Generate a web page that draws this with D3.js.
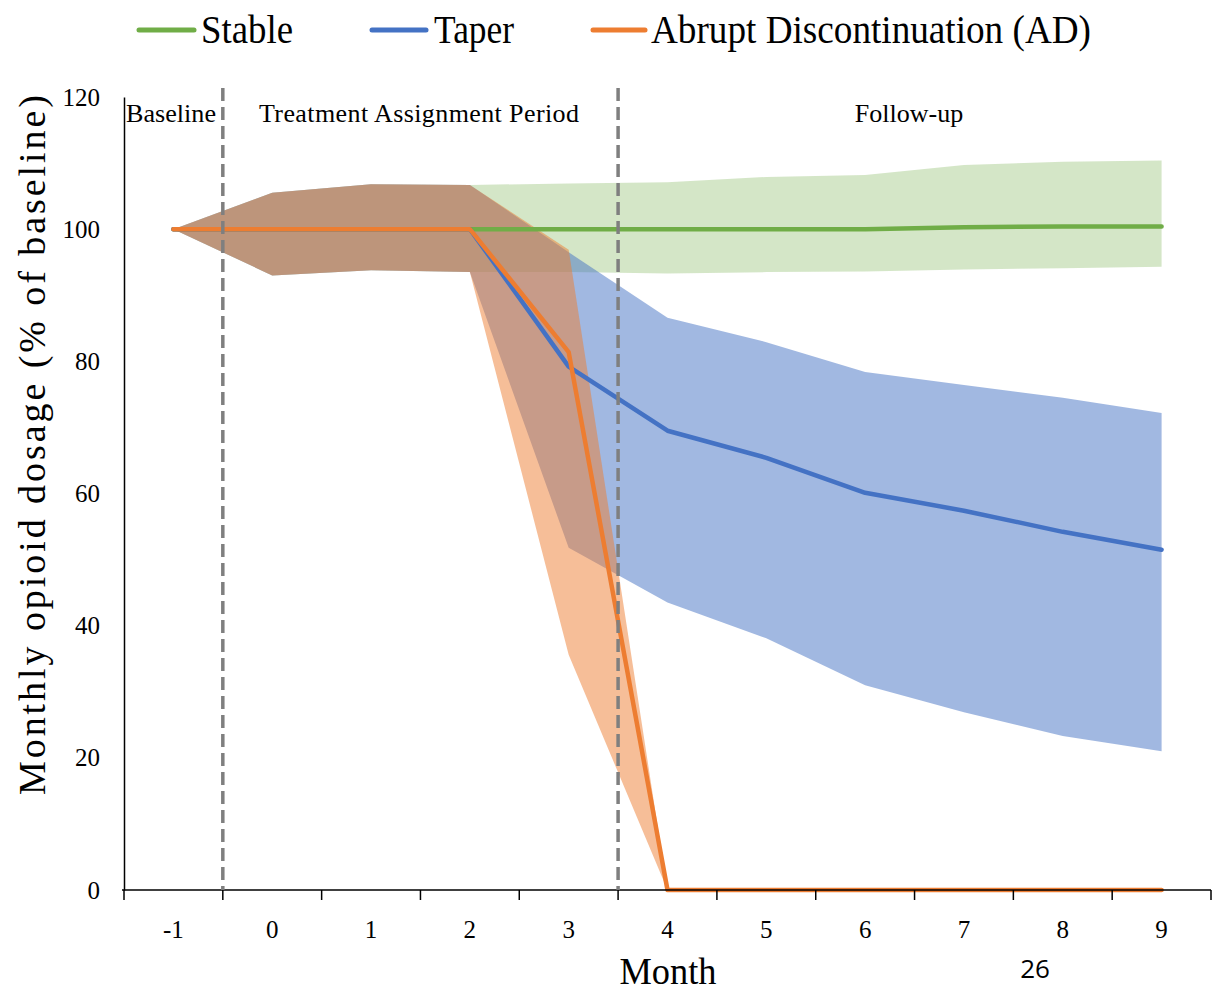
<!DOCTYPE html>
<html>
<head>
<meta charset="utf-8">
<script src="https://cdn.jsdelivr.net/npm/d3@7"></script>
<style>
  body { margin: 0; background: #fff; }
  text { font-family: "Liberation Serif", "Times New Roman", serif; fill: #000; }
</style>
</head>
<body>
<div id="chart"></div>
<script>
// Months on the x axis
const months = [-1, 0, 1, 2, 3, 4, 5, 6, 7, 8, 9];

// Stable group: mean and confidence band (% of baseline)
const stableMean  = [100, 100, 100, 100, 100, 100, 100, 100, 100.3, 100.4, 100.4];
const stableUpper = [100, 105.5, 106.8, 106.7, 106.9, 107.1, 107.9, 108.2, 109.7, 110.2, 110.4];
const stableLower = [100, 93, 93.8, 93.5, 93.5, 93.3, 93.5, 93.6, 93.9, 94.1, 94.3];

// Taper group
const taperMean  = [100, 100, 100, 100, 79.2, 69.5, 65.4, 60.1, 57.4, 54.2, 51.5];
const taperUpper = [100, 105.5, 106.8, 106.7, 96.5, 86.6, 82.9, 78.4, 76.4, 74.5, 72.2];
const taperLower = [100, 93, 93.8, 93.5, 51.8, 43.5, 38.1, 31.0, 26.9, 23.3, 21.0];

// Abrupt discontinuation group
const adMean  = [100, 100, 100, 100, 81.4, 0, 0, 0, 0, 0, 0];
const adUpper = [100, 105.5, 106.8, 106.7, 96.9, 0, 0, 0, 0, 0, 0];
const adLower = [100, 93, 93.8, 93.5, 35.6, 0, 0, 0, 0, 0, 0];

// Y axis ticks and period labels
const yTicks = [0, 20, 40, 60, 80, 100, 120];
const periodNames = ["Baseline", "Treatment Assignment Period", "Follow-up"];

const width = 1213, height = 994;

const svg = d3.select("#chart")
  .append("svg")
  .attr("width", width)
  .attr("height", height);

const x = d3.scaleBand()
  .domain(months)
  .range([124, 1211])
  .paddingInner(0)
  .paddingOuter(0);

const y = d3.scaleLinear()
  .domain([0, 120])
  .range([890, 97]);

const cx = m => x(m) + x.bandwidth() / 2;

// Series definitions built from the arrays above
const series = [
  { name: "Stable", color: "#70ad47", band: 0.3, mean: stableMean, upper: stableUpper, lower: stableLower },
  { name: "Taper", color: "#4472c4", band: 0.5, mean: taperMean, upper: taperUpper, lower: taperLower },
  { name: "Abrupt Discontinuation (AD)", color: "#ed7d31", band: 0.5, mean: adMean, upper: adUpper, lower: adLower }
];

const area = d3.area()
  .x(d => cx(d.m))
  .y0(d => y(d.lo))
  .y1(d => y(d.hi));

const line = d3.line()
  .x(d => cx(d.m))
  .y(d => y(d.v));

// Confidence bands first
series.forEach(s => {
  svg.append("path")
    .datum(months.map((m, i) => ({ m, lo: s.lower[i], hi: s.upper[i] })))
    .attr("d", area)
    .attr("fill", s.color)
    .attr("fill-opacity", s.band);
});

// Mean lines on top
series.forEach(s => {
  svg.append("path")
    .datum(months.map((m, i) => ({ m, v: s.mean[i] })))
    .attr("d", line)
    .attr("fill", "none")
    .attr("stroke", s.color)
    .attr("stroke-width", 4.5)
    .attr("stroke-linejoin", "round")
    .attr("stroke-linecap", "round");
});

// Y axis (no ticks, labels only)
const yAxis = svg.append("g")
  .attr("transform", `translate(${x.range()[0]},0)`)
  .call(d3.axisLeft(y).tickValues(yTicks).tickSize(0).tickPadding(24));
yAxis.select(".domain").attr("stroke", "#000").attr("stroke-width", 1.5);
yAxis.selectAll("text")
  .style("font-family", "'Liberation Serif', serif")
  .style("font-size", "25px")
  .attr("fill", "#000");

// X axis: ticks at band boundaries, labels in band centers
const xAxis = svg.append("g")
  .attr("transform", `translate(0,${y(0)})`);
xAxis.append("line")
  .attr("x1", x.range()[0] - 2)
  .attr("x2", x.range()[1])
  .attr("stroke", "#000")
  .attr("stroke-width", 1.5);
xAxis.selectAll(".bound")
  .data(months.concat(["end"]))
  .enter()
  .append("line")
  .attr("x1", d => d === "end" ? x.range()[1] : x(d))
  .attr("x2", d => d === "end" ? x.range()[1] : x(d))
  .attr("y1", 0)
  .attr("y2", 10)
  .attr("stroke", "#000")
  .attr("stroke-width", 1.5);
xAxis.selectAll(".lbl")
  .data(months)
  .enter()
  .append("text")
  .attr("x", d => cx(d))
  .attr("y", 48)
  .attr("text-anchor", "middle")
  .style("font-size", "25px")
  .text(d => d);

// Period separators (dashed)
[[-1, 0], [3, 4]].forEach(([a, b]) => {
  const xb = x(b);
  svg.append("line")
    .attr("x1", xb).attr("x2", xb)
    .attr("y1", 88).attr("y2", y(0))
    .attr("stroke", "#7f7f7f")
    .attr("stroke-width", 3.5)
    .attr("stroke-dasharray", "13,6");
});

// Period labels
svg.append("text").attr("x", 126).attr("y", 122)
  .style("font-size", "26px").attr("textLength", 90).attr("lengthAdjust", "spacingAndGlyphs")
  .text(periodNames[0]);
svg.append("text").attr("x", 419).attr("y", 122).attr("text-anchor", "middle")
  .style("font-size", "26px").attr("textLength", 320).attr("lengthAdjust", "spacing")
  .text(periodNames[1]);
svg.append("text").attr("x", 909).attr("y", 122).attr("text-anchor", "middle")
  .style("font-size", "26px")
  .text(periodNames[2]);

// Axis titles
svg.append("text")
  .attr("transform", "translate(45,445) rotate(-90)")
  .attr("text-anchor", "middle")
  .style("font-size", "38px")
  .attr("textLength", 700)
  .attr("lengthAdjust", "spacing")
  .text("Monthly opioid dosage (% of baseline)");

svg.append("text")
  .attr("x", 668)
  .attr("y", 984)
  .attr("text-anchor", "middle")
  .style("font-size", "38px")
  .attr("textLength", 97)
  .attr("lengthAdjust", "spacingAndGlyphs")
  .text("Month");

// Legend across the top
const legendItems = [
  { s: series[0], x1: 139, x2: 194, tx: 201, tl: 92 },
  { s: series[1], x1: 372, x2: 426, tx: 434, tl: 80 },
  { s: series[2], x1: 593, x2: 645, tx: 651, tl: 440 }
];
legendItems.forEach(it => {
  svg.append("line")
    .attr("x1", it.x1).attr("x2", it.x2)
    .attr("y1", 30).attr("y2", 30)
    .attr("stroke", it.s.color)
    .attr("stroke-width", 5)
    .attr("stroke-linecap", "round");
  svg.append("text")
    .attr("x", it.tx)
    .attr("y", 43)
    .style("font-size", "40px")
    .attr("textLength", it.tl)
    .attr("lengthAdjust", "spacingAndGlyphs")
    .text(it.s.name);
});

// Slide number
svg.append("text")
  .attr("x", 1035)
  .attr("y", 978)
  .attr("text-anchor", "middle")
  .style("font-family", "'Open Sans', sans-serif")
  .style("font-size", "26px")
  .attr("fill", "#a8a8a8")
  .text("26");
</script>
</body>
</html>
